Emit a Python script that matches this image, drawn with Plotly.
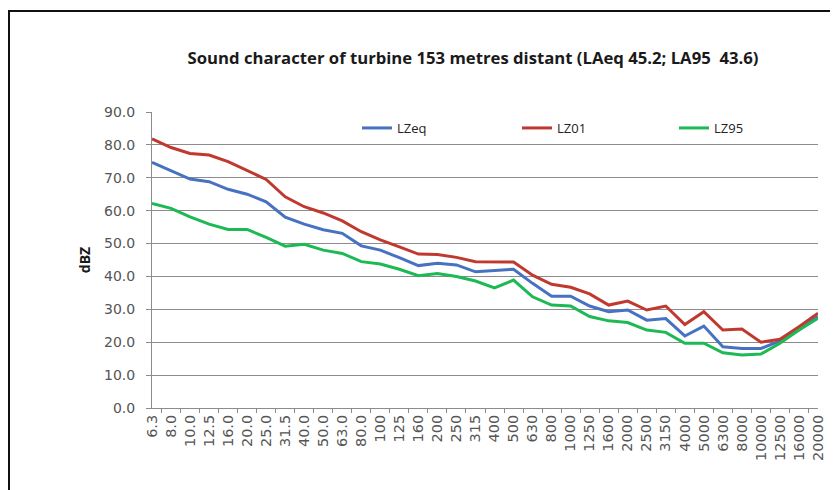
import plotly.graph_objects as go

# third-octave band centre frequencies (Hz), as labelled on the axis
bands = ['6.3', '8.0', '10.0', '12.5', '16.0', '20.0', '25.0', '31.5', '40.0', '50.0',
         '63.0', '80.0', '100', '125', '160', '200', '250', '315', '400', '500',
         '630', '800', '1000', '1250', '1600', '2000', '2500', '3150', '4000', '5000',
         '6300', '8000', '10000', '12500', '16000', '20000']

lzeq = [74.7, 72.1, 69.6, 68.8, 66.5, 65.0, 62.7, 58.0, 55.9, 54.2,
        53.1, 49.3, 48.0, 45.7, 43.3, 44.0, 43.5, 41.4, 41.7, 42.2,
        37.9, 34.0, 34.0, 31.0, 29.3, 29.8, 26.7, 27.2, 21.9, 24.9,
        18.6, 18.1, 18.1, 20.4, 23.7, 27.8]
lz01 = [81.8, 79.2, 77.4, 76.9, 74.9, 72.1, 69.5, 64.2, 61.2, 59.3,
        56.9, 53.6, 51.1, 49.0, 46.8, 46.7, 45.8, 44.5, 44.4, 44.4,
        40.4, 37.6, 36.7, 34.7, 31.3, 32.5, 29.8, 31.0, 25.4, 29.3,
        23.7, 24.0, 20.0, 20.9, 24.7, 28.8]
lz95 = [62.2, 60.7, 58.1, 55.9, 54.3, 54.3, 51.9, 49.2, 49.8, 48.0,
        47.0, 44.5, 43.8, 42.2, 40.2, 40.9, 40.0, 38.6, 36.5, 38.9,
        33.8, 31.3, 31.0, 27.8, 26.5, 26.0, 23.7, 23.0, 19.7, 19.7,
        16.8, 16.1, 16.4, 19.7, 23.7, 27.3]

y_ticks = [0, 10, 20, 30, 40, 50, 60, 70, 80, 90]

# page body has an 8px margin, so the figure is drawn 8px smaller and
# all pixel positions below are in figure coordinates
W, H = 830, 482
L, T, PW, PH = 144, 104, 666, 296


def px(x):
    return (x - L) / PW


def py(y):
    return (T + PH - y) / PH


fig = go.Figure()
fig.add_trace(go.Scatter(x=bands, y=lzeq, name='LZeq', mode='lines', legend='legend',
                         showlegend=True, line=dict(color='#4672C1', width=3)))
fig.add_trace(go.Scatter(x=bands, y=lz01, name='LZ01', mode='lines', legend='legend2',
                         showlegend=True, line=dict(color='#C0392F', width=3)))
fig.add_trace(go.Scatter(x=bands, y=lz95, name='LZ95', mode='lines', legend='legend3',
                         showlegend=True, line=dict(color='#1DB954', width=3)))

leg = dict(orientation='h', xanchor='left', y=py(120), yanchor='middle', visible=True,
           bgcolor='rgba(0,0,0,0)', font=dict(family='Open Sans', size=13, color='#222'))

fig.update_layout(
    width=W, height=H, showlegend=True,
    margin=dict(l=L, r=W - L - PW, t=T, b=H - T - PH),
    paper_bgcolor='white', plot_bgcolor='white',
    title=dict(text='<b>Sound character of turbine 153 metres distant (LAeq 45.2; LA95  43.6)</b>',
               x=465 / W, xanchor='center', y=1 - 50 / H, yanchor='middle',
               font=dict(family='Open Sans', size=16.7, color='#1a1a1a')),
    legend=dict(leg, x=px(349)),
    legend2=dict(leg, x=px(509)),
    legend3=dict(leg, x=px(666)),
    font=dict(family='Open Sans', color='#404040'),
    shapes=[dict(type='rect', xref='paper', yref='paper',
                 x0=px(1), x1=px(824), y0=py(500), y1=py(3),
                 line=dict(color='#111', width=2), layer='below')],
)
fig.update_xaxes(type='category', tickangle=-90, showgrid=False,
                 showline=True, linecolor='#8c8c8c', linewidth=1,
                 ticks='outside', ticklen=4, tickcolor='#8c8c8c', tickson='boundaries',
                 tickfont=dict(family='DejaVu Sans', size=14.5, color='#555555'))
fig.update_yaxes(range=[0, 90], tickvals=y_ticks, tickformat='.1f',
                 showgrid=True, gridcolor='#8c8c8c', gridwidth=1,
                 showline=True, linecolor='#8c8c8c', linewidth=1, zeroline=False,
                 ticks='outside', ticklen=5, tickcolor='#8c8c8c', ticklabelstandoff=8,
                 tickfont=dict(family='DejaVu Sans', size=14, color='#555555'),
                 title=dict(text='<b>dBZ</b>', standoff=10,
                            font=dict(family='Open Sans', size=14, color='#1a1a1a')))

fig.write_html('out.html')
